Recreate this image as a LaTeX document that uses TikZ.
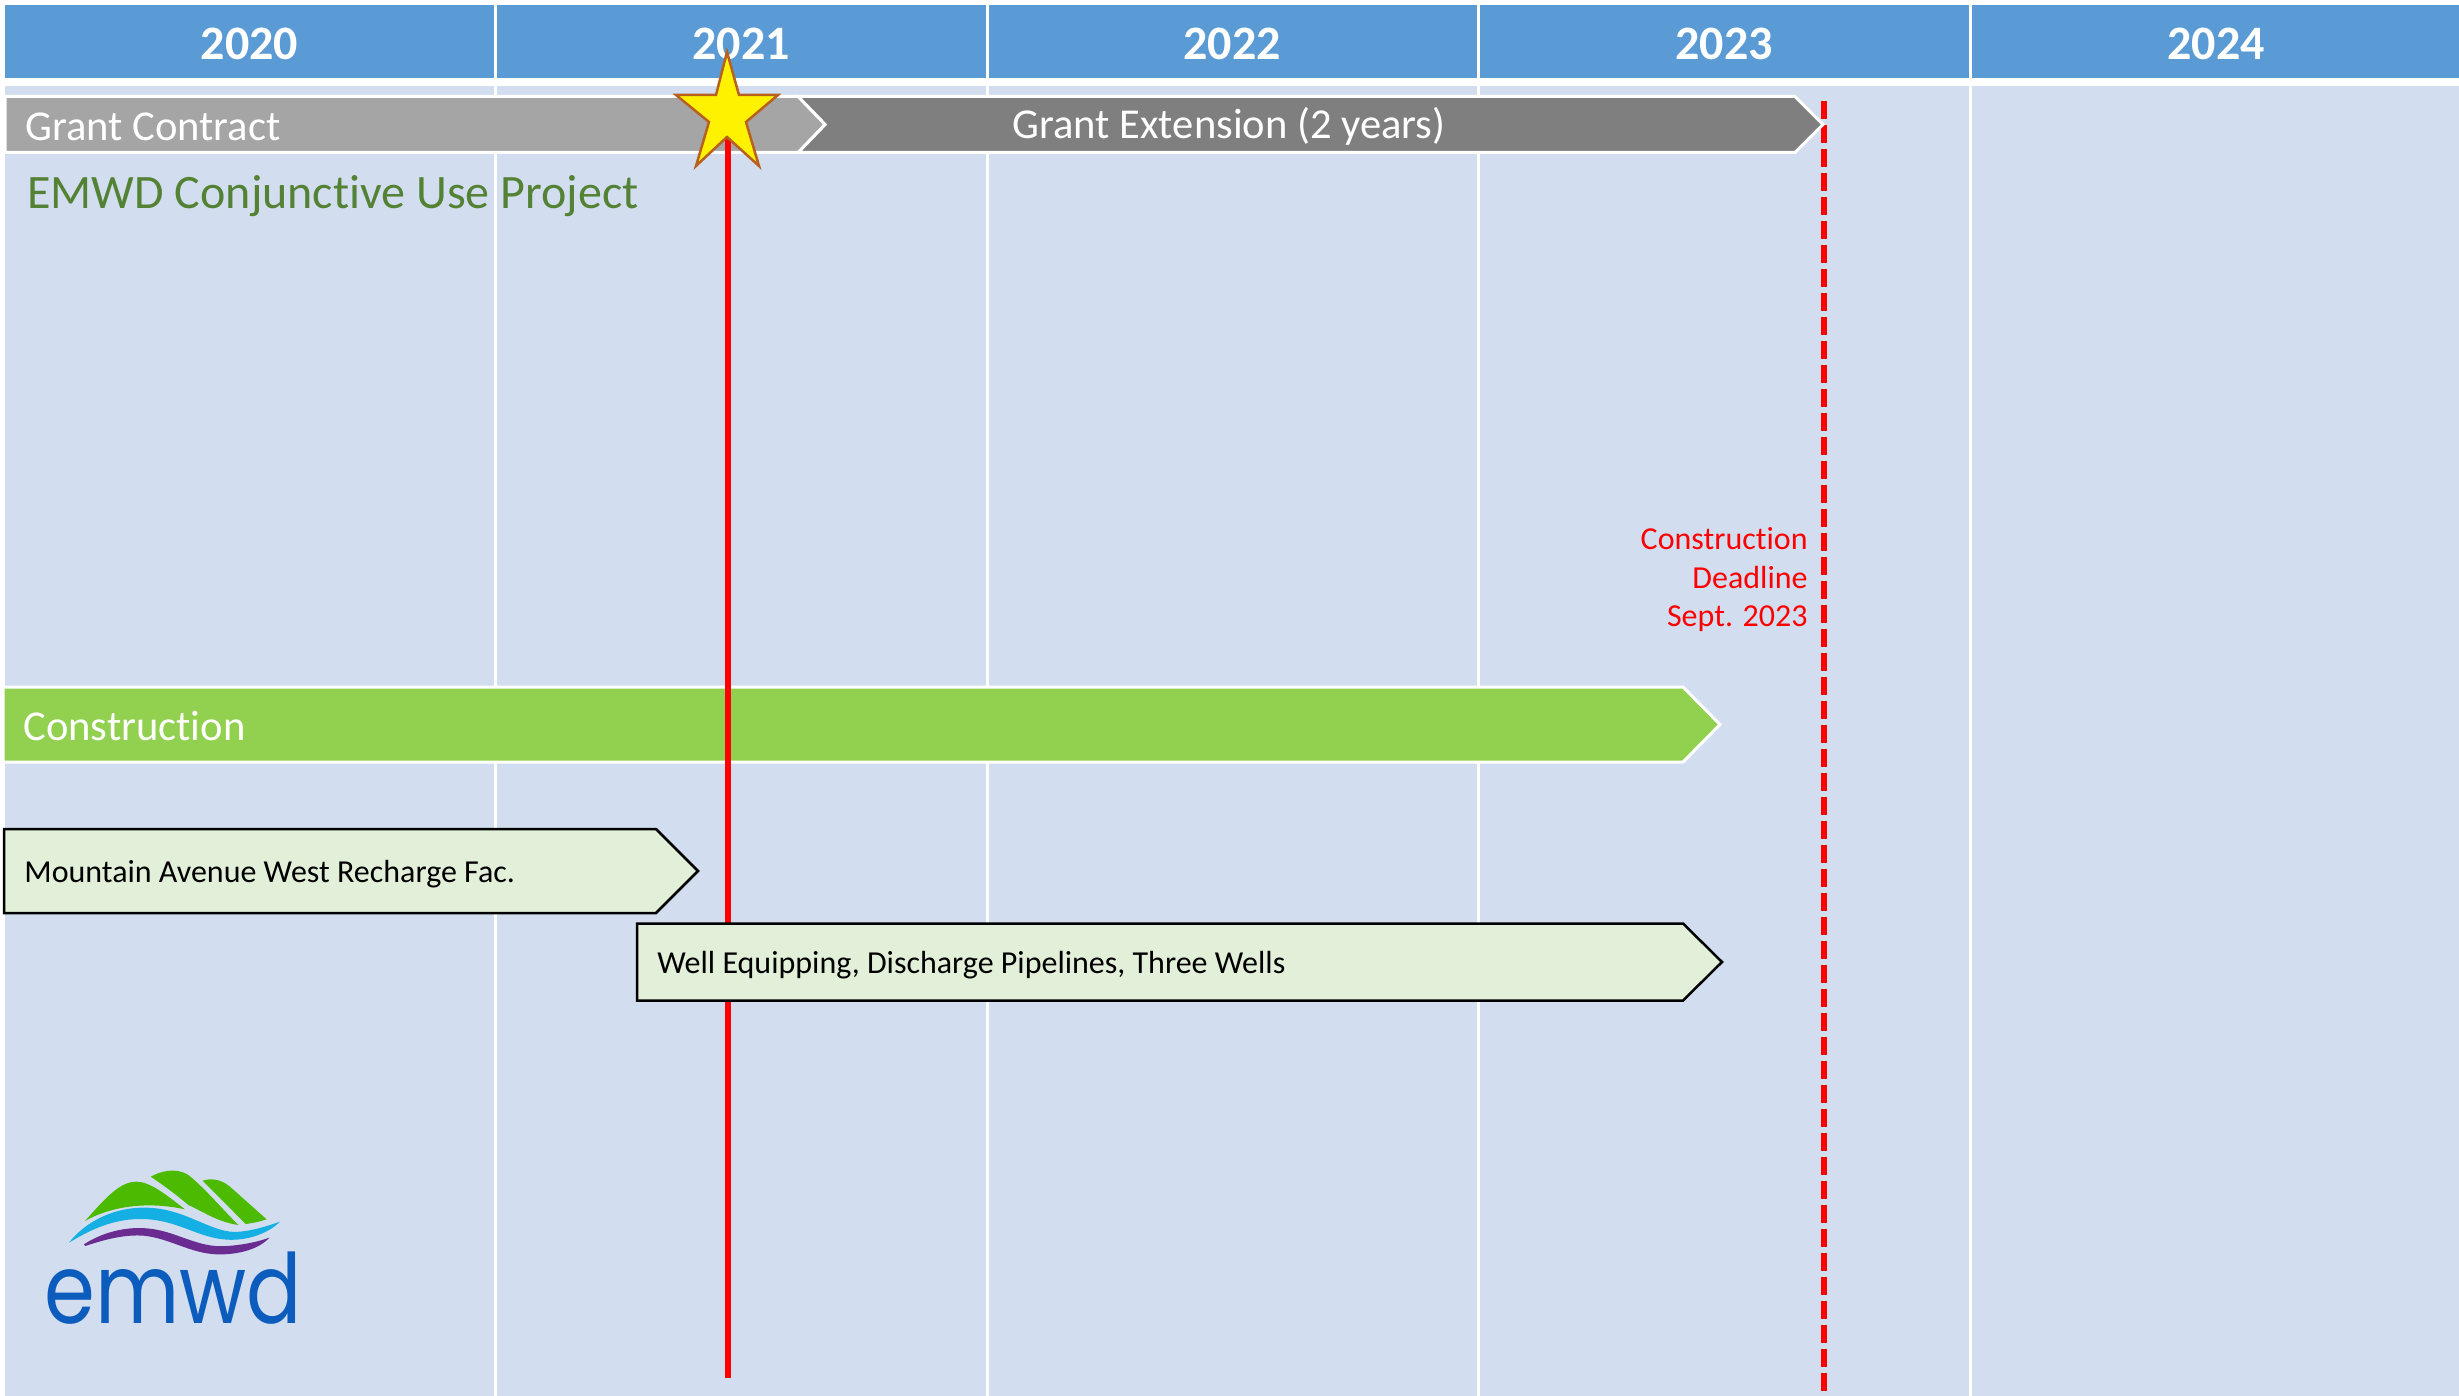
\documentclass[tikz,border=0pt]{standalone}
\usepackage{fontspec}
\setmainfont{Carlito}[Ligatures=NoCommon]
\newfontfamily\logofont{Poppins}
\definecolor{hdrblue}{HTML}{5B9BD5}
\definecolor{bodyblue}{HTML}{D2DEEF}
\definecolor{greylight}{HTML}{A5A5A5}
\definecolor{greydark}{HTML}{7F7F7F}
\definecolor{barlime}{HTML}{92D050}
\definecolor{barpale}{HTML}{E2EFD9}
\definecolor{titlegreen}{HTML}{548235}
\definecolor{starline}{HTML}{B8611E}
\definecolor{logogreen}{HTML}{4CBB00}
\definecolor{logoblue}{HTML}{15B0E3}
\definecolor{logopurple}{HTML}{6A2C91}
\definecolor{logotext}{HTML}{0B5CBD}
\tikzset{
  x=0.5pt,y=-0.5pt,
  hdrcell/.style={fill=hdrblue},
  divider/.style={white,line width=1.5pt},
  whitebar/.style={draw=white,line width=1.5pt,line join=miter},
  blackbar/.style={draw=black,fill=barpale,line width=1.25pt,line join=miter},
  yearlabel/.style={text=white,font=\fontsize{24}{28}\selectfont\bfseries,inner sep=0pt},
  barlabel/.style={text=white,font=\fontsize{21.3}{25}\selectfont,inner sep=0pt,anchor=west},
  tasklabel/.style={text=black,font=\fontsize{16}{19}\selectfont,inner sep=0pt,anchor=west},
  deadlinelabel/.style={text=red,font=\fontsize{16}{19.25}\selectfont,inner sep=0pt,align=right,anchor=north east},
}
\begin{document}
\begin{tikzpicture}
\useasboundingbox (0,0) rectangle (2459,1396);
\fill[white] (0,0) rectangle (2459,1396);
% body and grid
\fill[bodyblue] (5,86) rectangle (2459,1396);
\foreach \xx in {495.5,987,1478.5,1970}{\draw[divider] (\xx,86) -- (\xx,1396);}
% header
\fill[hdrcell] (5,5) rectangle (2459,78);
\foreach \xx in {495.5,987,1478.5,1970}{\draw[divider] (\xx,5) -- (\xx,78);}
\node[yearlabel] (y2020) at (249.5,44) {2020};
\node[yearlabel] (y2021) at (741,44) {2021};
\node[yearlabel] (y2022) at (1232,44) {2022};
\node[yearlabel] (y2023) at (1724,44) {2023};
\node[yearlabel] (y2024) at (2216,44) {2024};
% deadline
\coordinate (deadA) at (1824,101);
\coordinate (deadB) at (1824,1396);
\draw[red,line width=3pt,dash pattern=on 9pt off 3pt] (deadA) -- (deadB);
% grant bars
\path[whitebar,fill=greydark] (798,96.5) -- (1795,96.5) -- (1823,124.5) -- (1795,152.5) -- (798,152.5) -- (825,124.5) -- cycle;
\path[whitebar,fill=greylight] (5,96.5) -- (798,96.5) -- (825,124.5) -- (798,152.5) -- (5,152.5) -- cycle;
\node[barlabel] (grant) at (25,126.5) {Grant Contract};
\node[barlabel,anchor=center] (ext) at (1229,126.5) {Grant Extension (2 years)};
\node[inner sep=0pt,anchor=west,text=titlegreen,font=\fontsize{24}{28}\selectfont] (title) at (27,196.5) {EMWD Conjunctive Use Project};
% deadline text
\node[deadlinelabel] (dltext) at (1808,527.5) {Construction\\Deadline\\Sept. 2023};
% construction
\path[whitebar,fill=barlime] (3,687) -- (1683,687) -- (1720,724.5) -- (1683,762) -- (3,762) -- cycle;
\node[barlabel] (constr) at (23,726) {Construction};
% today line
\coordinate (todayA) at (727.5,137);
\coordinate (todayB) at (727.5,1378);
\draw[red,line width=3pt] (todayA) -- (todayB);
% tasks
\path[blackbar] (4,829) -- (656,829) -- (698,871) -- (656,913) -- (4,913) -- cycle;
\node[tasklabel] (mtn) at (24,874.5) {Mountain Avenue West Recharge Fac.};
\path[blackbar] (637,923.5) -- (1683,923.5) -- (1722,962) -- (1683,1000.5) -- (637,1000.5) -- cycle;
\node[tasklabel] (well) at (657,965.5) {Well Equipping, Discharge Pipelines, Three Wells};
% star
\path[draw=starline,fill=yellow,line width=1.25pt,line join=miter] (727,52) -- (739,95) -- (778,95) -- (746,122) -- (759,166) -- (727,137) -- (696,166) -- (709,122) -- (676,95) -- (716,95) -- cycle;
% logo
\begin{scope}[shift={(0,1140)},xscale=1/3,yscale=1/3]
\fill[logogreen] (255,243) .. controls (320,170) and (360,125) .. (410,125) .. controls (450,125) and (500,165) .. (555,208) .. controls (450,185) and (340,195) .. (255,243) -- cycle;
\fill[logogreen] (452,110) .. controls (480,95) and (525,80) .. (565,105) .. controls (610,140) and (670,210) .. (715,255) .. controls (650,245) and (610,215) .. (565,195) .. controls (530,165) and (490,135) .. (452,110) -- cycle;
\fill[logogreen] (608,122) .. controls (630,115) and (660,115) .. (690,140) -- (800,238) .. controls (780,245) and (755,250) .. (737,252) -- cycle;
\fill[logoblue] (207,308) .. controls (260,240) and (350,200) .. (440,203) .. controls (560,205) and (640,285) .. (720,275) .. controls (770,270) and (810,255) .. (840,245) .. controls (800,285) and (730,305) .. (670,298) .. controls (590,290) and (530,240) .. (430,237) .. controls (340,235) and (270,270) .. (207,308) -- cycle;
\fill[logopurple] (252,313) .. controls (310,275) and (380,260) .. (440,265) .. controls (530,272) and (590,325) .. (680,318) .. controls (730,315) and (775,305) .. (808,293) .. controls (780,325) and (720,345) .. (650,343) .. controls (570,340) and (510,295) .. (430,287) .. controls (370,283) and (310,300) .. (256,318) -- cycle;
\end{scope}
\node[inner sep=0pt,anchor=base west,text=logotext,font=\logofont\fontsize{44}{50}\selectfont] (logo) at (44,1323) {\scalebox{.93}[1.1]{emwd}};
\end{tikzpicture}
\end{document}
